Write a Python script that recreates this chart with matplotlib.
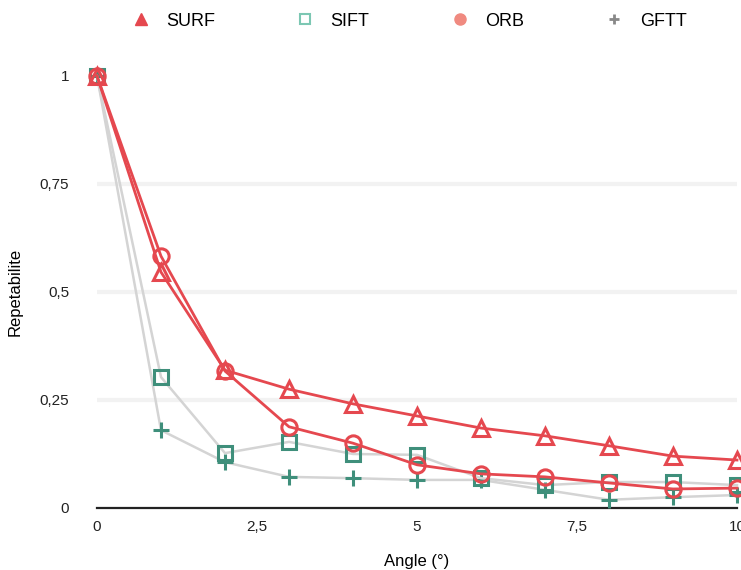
import matplotlib
matplotlib.use("Agg")
import matplotlib.pyplot as plt
from matplotlib.lines import Line2D
from matplotlib.ticker import FuncFormatter

plt.rcParams['font.family'] = ['Liberation Sans', 'DejaVu Sans']

angles = [0, 1, 2, 3, 4, 5, 6, 7, 8, 9, 10]
surf = [1.0, 0.546, 0.319, 0.275, 0.241, 0.213, 0.185, 0.167, 0.144, 0.120, 0.111]
sift = [1.0, 0.303, 0.127, 0.153, 0.125, 0.123, 0.069, 0.053, 0.060, 0.060, 0.053]
orb = [1.0, 0.583, 0.317, 0.188, 0.150, 0.100, 0.079, 0.072, 0.058, 0.044, 0.046]
gftt = [1.0, 0.180, 0.106, 0.072, 0.069, 0.065, 0.065, 0.042, 0.019, 0.025, 0.030]

xticks = [0, 2.5, 5, 7.5, 10]
yticks = [0, 0.25, 0.5, 0.75, 1]

red = '#e5484f'
teal = '#3f8f7b'
gray_line = '#d4d4d4'

fig = plt.figure(figsize=(7.41, 5.70), dpi=100)
ax = fig.add_axes([0.1309, 0.1088, 0.8637, 0.7579])

ax.plot(angles, gftt, color=gray_line, lw=1.8, marker='+', ms=11, mew=2.2,
        mec=teal, zorder=3, clip_on=False)
ax.plot(angles, sift, color=gray_line, lw=1.8, marker='s', ms=10, mew=2.2,
        mec=teal, mfc='none', zorder=3, clip_on=False)
ax.plot(angles, orb, color=red, lw=2, marker='o', ms=11, mew=2.2,
        mec=red, mfc='none', zorder=4, clip_on=False)
ax.plot(angles, surf, color=red, lw=2, marker='^', ms=11, mew=2.2,
        mec=red, mfc='none', zorder=5, clip_on=False)

ax.set_xlim(0, 10)
ax.set_ylim(0, 1)
ax.set_xticks(xticks)
ax.set_yticks(yticks)
fmt = FuncFormatter(lambda v, p: ('%g' % v).replace('.', ','))
ax.xaxis.set_major_formatter(fmt)
ax.yaxis.set_major_formatter(fmt)
ax.tick_params(length=0, labelsize=11, colors='#222222')
ax.tick_params(axis='x', pad=9)
ax.tick_params(axis='y', pad=20)

for y in [0.25, 0.5, 0.75]:
    ax.axhline(y, color='#f2f2f2', lw=3, zorder=0)

for s in ['top', 'right', 'left']:
    ax.spines[s].set_visible(False)
ax.spines['bottom'].set_color('#222222')
ax.spines['bottom'].set_linewidth(1.6)

ax.set_xlabel('Angle (°)', fontsize=12, labelpad=14)
ax.set_ylabel('Repetabilite', fontsize=12, labelpad=12)

handles = [
    Line2D([], [], ls='none', marker='^', ms=8, color=red, mec=red),
    Line2D([], [], ls='none', marker='s', ms=7, mfc='none', mec='#7cc7b3', mew=1.5),
    Line2D([], [], ls='none', marker='o', ms=8, color='#f08a80', mec='#f08a80'),
    Line2D([], [], ls='none', marker='+', ms=7, mec='#888888', mew=2),
]
fig.legend(handles, ['SURF', 'SIFT', 'ORB', 'GFTT'], loc='center',
           bbox_to_anchor=(0.546, 0.963), ncol=4, frameon=False,
           fontsize=13, columnspacing=4.0, handletextpad=0.4)

fig.savefig('out.png', dpi=100)
